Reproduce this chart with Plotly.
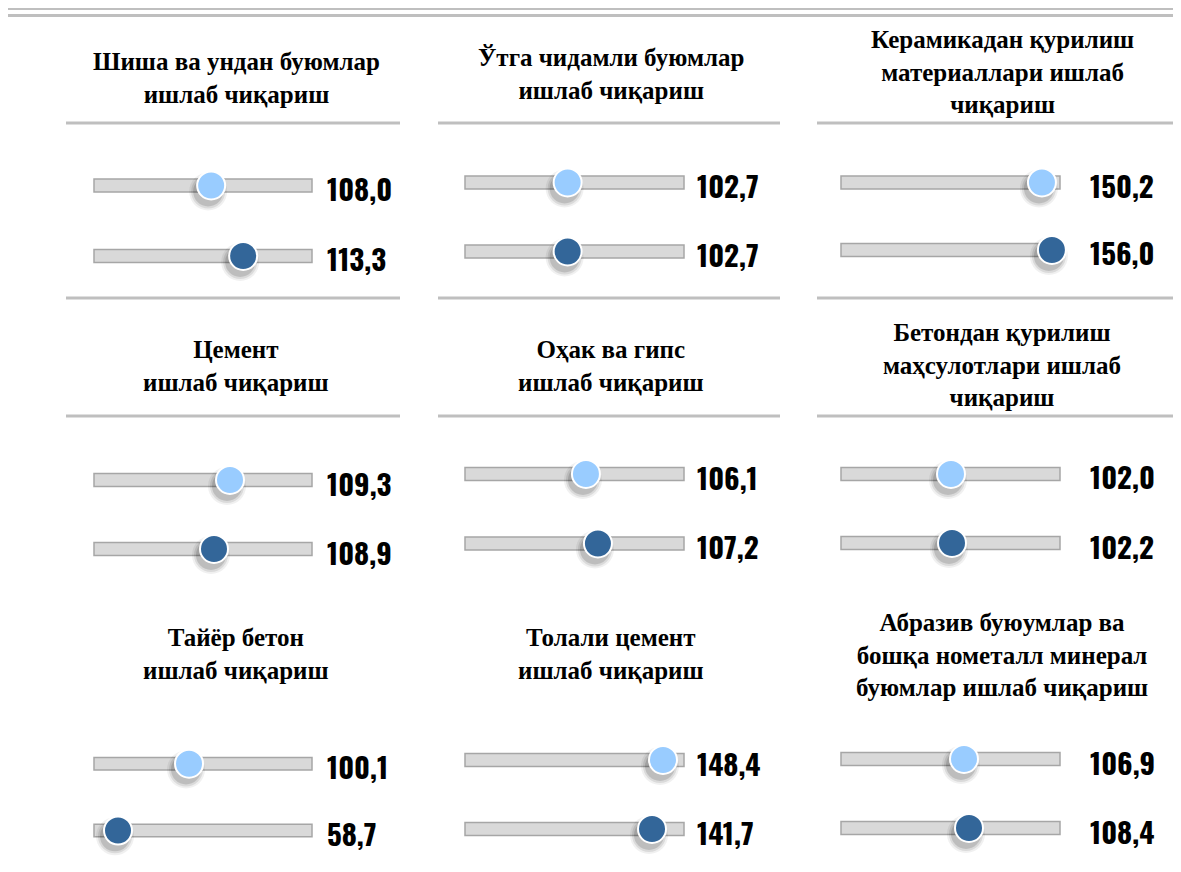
import plotly.graph_objects as go

# ---------------- data ----------------
titles = [
    "Шиша ва ундан буюмлар<br>ишлаб чиқариш",
    "Ўтга чидамли буюмлар<br>ишлаб чиқариш",
    "Керамикадан қурилиш<br>материаллари ишлаб<br>чиқариш",
    "Цемент<br>ишлаб чиқариш",
    "Оҳак ва гипс<br>ишлаб чиқариш",
    "Бетондан қурилиш<br>маҳсулотлари ишлаб<br>чиқариш",
    "Тайёр бетон<br>ишлаб чиқариш",
    "Толали цемент<br>ишлаб чиқариш",
    "Абразив буюумлар ва<br>бошқа нометалл минерал<br>буюмлар ишлаб чиқариш",
]
values_light = [108.0, 102.7, 150.2, 109.3, 106.1, 102.0, 100.1, 148.4, 106.9]
values_dark = [113.3, 102.7, 156.0, 108.9, 107.2, 102.2, 58.7, 141.7, 108.4]

# ---------------- layout config ----------------
PAGE_MARGIN = 8                     # browser body margin around the plot div
W, H = 1181 - 2 * PAGE_MARGIN, 872 - 2 * PAGE_MARGIN
x_ranges = [(88.6, 124.7), (90.0, 117.1), (33.4, 160.7),
            (105.9, 111.35), (95.0, 115.1), (80.0, 123.8),
            (44.7, 171.8), (27.7, 161.2), (70.0, 135.7)]
col_bar_px = [(94, 312), (465, 684), (841, 1060)]
label_shift = [13, 11, 28]
row_centers = [(185.5, 256), (182.5, 251.5), (182.5, 250),
               (480, 549), (474, 543.5), (474, 543),
               (765, 834.5), (760, 829), (759, 828)]
title_x = [236, 611, 1002]
title_y = [78, 74, 72, 366, 366, 365, 654, 654, 655]
LIGHT = "#99CCFF"
DARK = "#336699"
SEP = "#BFBFBF"
NUM_FONT = ("Oswald, Bebas Neue, Impact, Open Sans Condensed, Roboto Condensed, "
            "Liberation Sans Narrow, DejaVu Sans Condensed, sans-serif")
TITLE_FONT = "Liberation Serif, Times New Roman, serif"


def fmt(v):
    return f"{v:.1f}".replace(".", ",")


def px(x):
    return min(max((x - PAGE_MARGIN) / W, 0), 1)


def py(y):
    return min(max(1 - (y - PAGE_MARGIN) / H, 0), 1)


fig = go.Figure()
shapes = []
annotations = []

for i in range(9):
    col = i % 3
    n = "" if i == 0 else str(i + 1)
    xa, ya = "x" + n, "y" + n
    x0p, x1p = col_bar_px[col]
    c1, c2 = row_centers[i]
    d = c2 - c1
    top, bot = c1 - d / 2, c2 + d / 2
    xmin, xmax = x_ranges[i]
    fig.update_layout(**{
        "xaxis" + n: dict(domain=[px(x0p), px(x1p)], range=[xmin, xmax], visible=False,
                          anchor=ya, fixedrange=True),
        "yaxis" + n: dict(domain=[py(bot), py(top)], range=[1.5, -0.5], visible=False,
                          anchor=xa, fixedrange=True),
    })
    # slider tracks
    bh = 13 / d
    for r in (0, 1):
        shapes.append(dict(type="rect", xref=xa + " domain", yref=ya, x0=0, x1=1,
                           y0=r - bh / 2, y1=r + bh / 2, fillcolor="#D9D9D9",
                           line=dict(color="#A6A6A6", width=1.5), layer="below"))
    vals = [values_light[i], values_dark[i]]
    dx = -3 * (xmax - xmin) / (x1p - x0p)
    dy = 6 / d
    # soft shadows
    for s, a in ((38, 0.06), (34, 0.09), (30, 0.13)):
        fig.add_trace(go.Scatter(x=[v + dx for v in vals], y=[0 + dy, 1 + dy], xaxis=xa, yaxis=ya,
                                 mode="markers", cliponaxis=False, hoverinfo="skip",
                                 marker=dict(size=s, color=f"rgba(0,0,0,{a})", line=dict(width=0)),
                                 showlegend=False))
    fig.add_trace(go.Scatter(x=vals, y=[0, 1], xaxis=xa, yaxis=ya, mode="markers",
                             cliponaxis=False, showlegend=False,
                             marker=dict(size=28, color=[LIGHT, DARK],
                                         line=dict(color="white", width=2))))
    for r, v in enumerate(vals):
        annotations.append(dict(xref=xa + " domain", yref=ya, x=1, y=r, xanchor="left",
                                yanchor="middle", xshift=label_shift[col], yshift=-2,
                                text="<b>" + fmt(v) + "</b>", showarrow=False,
                                font=dict(family=NUM_FONT, size=29, color="black")))
    annotations.append(dict(xref="paper", yref="paper", x=px(title_x[col]), y=py(title_y[i]),
                            xanchor="center", yanchor="middle", text="<b>" + titles[i] + "</b>",
                            showarrow=False, align="center",
                            font=dict(family=TITLE_FONT, size=25, color="black")))

# separator lines
for yy in (8.5, 15.5):
    shapes.append(dict(type="line", xref="paper", yref="paper", x0=px(7), x1=1,
                       y0=py(yy), y1=py(yy), line=dict(color=SEP, width=3)))
sep_x = [(66, 400), (438, 780), (817, 1181)]
for (a, b) in sep_x:
    for yy in (123, 298, 416):
        shapes.append(dict(type="line", xref="paper", yref="paper", x0=px(a), x1=px(b),
                           y0=py(yy), y1=py(yy), line=dict(color=SEP, width=3)))

fig.update_layout(width=W, height=H, margin=dict(l=0, r=0, t=0, b=0),
                  paper_bgcolor="white", plot_bgcolor="rgba(0,0,0,0)",
                  shapes=shapes, annotations=annotations, showlegend=False)
fig.write_html("out.html", config={"displayModeBar": False})
